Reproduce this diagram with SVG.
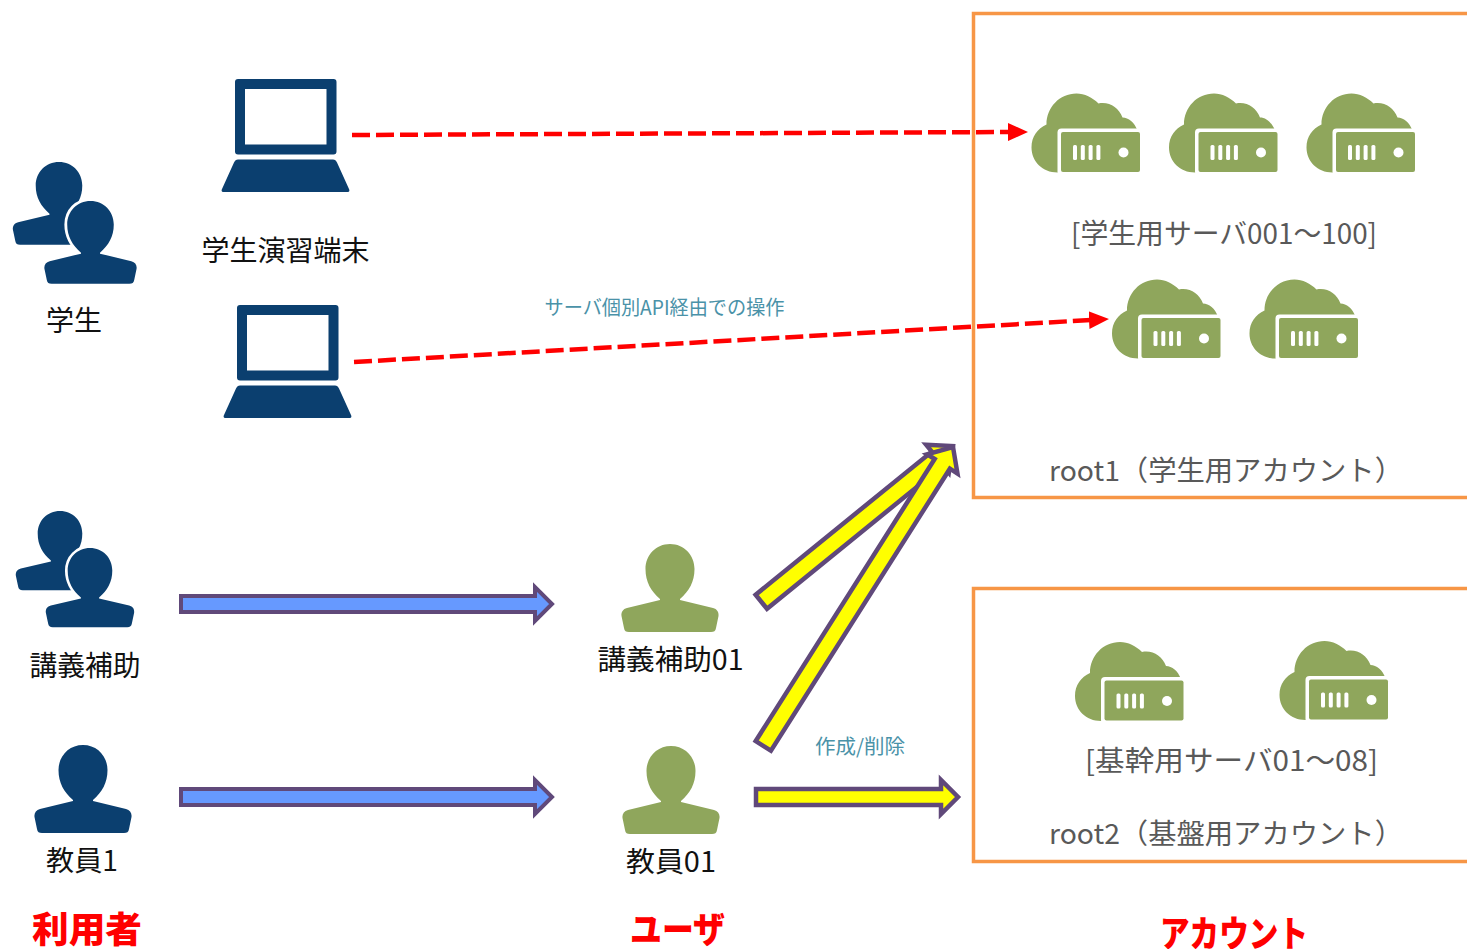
<svg xmlns="http://www.w3.org/2000/svg" xmlns:xlink="http://www.w3.org/1999/xlink" width="1467" height="949" viewBox="0 0 1467 949">
<style>
text{font-family:"Noto Sans CJK JP","Noto Sans",sans-serif;text-anchor:middle}
.k{font-size:28px;fill:#111}
.g{font-size:28px;fill:#595959}
.t{font-size:20px;fill:#4a92a8}
.r{font-size:36px;font-weight:900;fill:#f00}
.box{fill:none;stroke:#f79646;stroke-width:3.5}
.blue{fill:#0b3f6f}
.green{fill:#8fa65c}
.halo{stroke:#fff;stroke-width:6;paint-order:stroke}
.dash{fill:none;stroke:#f00;stroke-width:4.5;stroke-dasharray:18 6}
.ba{fill:#6699ff;stroke:#60497a;stroke-width:4}
.ya{fill:#ff0;stroke:#60497a;stroke-width:4.5}
</style>
<defs>
<path id="person" d="M0,0C14,0 24.500,11 24.500,25C24.500,38 19,47 10,55V56L43,64C47,65 49,68 48.500,72L46,84C45.500,87 44,88 41,88H-41C-44,88 -45.500,87 -46,84L-48.500,72C-49,68 -47,65 -43,64L-10,56V55C-19,47 -24.500,38 -24.500,25C-24.500,11 -14,0 0,0Z"/>
<g id="laptop">
<path fill-rule="evenodd" d="M3,0H98.500A3,3 0 0 1 101.500,3V72.500A3,3 0 0 1 98.500,75.500H3A3,3 0 0 1 0,72.500V3A3,3 0 0 1 3,0ZM10,10V65.500H91.500V10Z"/>
<path d="M3,80.500H98C100,80.500 101,81.500 102,83.500L114,110C115,112 114,113 112,113H-11C-13,113 -14,112 -13,110L-1,83.500C0,81.500 1,80.500 3,80.500Z"/>
</g>
<g id="cloudsrv">
<path class="green" d="M26,79C11,79 0,68 0,54C0,43 6,35 15,31C15,14 28,0 45,0C53,0 61,4 67,10C78,8 87,14 91,24C97,24 103,29 106,37V79Z"/>
<rect x="26" y="35" width="86" height="47" rx="4" fill="#fff"/>
<rect x="29.500" y="38.500" width="79" height="40" rx="2" class="green"/>
<g fill="#fff">
<rect x="41.500" y="51.500" width="4" height="15" rx="1.500"/>
<rect x="49.300" y="51.500" width="4" height="15" rx="1.500"/>
<rect x="57.100" y="51.500" width="4" height="15" rx="1.500"/>
<rect x="64.900" y="51.500" width="4" height="15" rx="1.500"/>
<circle cx="92" cy="59" r="5"/>
</g>
</g>
<marker id="redhead" markerUnits="userSpaceOnUse" markerWidth="22" markerHeight="22" refX="2" refY="10" orient="auto" viewBox="0 0 22 20"><path d="M0,1L20,10L0,19Z" fill="#f00"/></marker>
</defs>

<g id="account-root1"><rect class="box" x="973.500" y="13.500" width="520" height="484"/><text class="g" x="1049" y="481" style="text-anchor:start" textLength="354" lengthAdjust="spacingAndGlyphs">root1（学生用アカウント）</text></g>
<g id="account-root2"><rect class="box" x="973.500" y="588.500" width="520" height="273"/><text class="g" x="1049" y="844" style="text-anchor:start" textLength="354" lengthAdjust="spacingAndGlyphs">root2（基盤用アカウント）</text></g>

<g id="students"><use href="#person" class="blue" transform="translate(59,162) scale(.95,.94)"/><use href="#person" class="blue halo" transform="translate(90.500,201) scale(.95,.94)"/><text class="k" x="74" y="331" textLength="56" lengthAdjust="spacingAndGlyphs">学生</text></g>
<g id="student-terminal-1"><use href="#laptop" class="blue" transform="translate(235,79)"/><text class="k" x="285.500" y="261" textLength="168" lengthAdjust="spacingAndGlyphs">学生演習端末</text></g>
<g id="student-terminal-2"><use href="#laptop" class="blue" transform="translate(237,305)"/></g>
<g id="assistants"><use href="#person" class="blue" transform="translate(60,511) scale(.91,.9)"/><use href="#person" class="blue halo" transform="translate(90,548) scale(.91,.9)"/><text class="k" x="85" y="676" textLength="111" lengthAdjust="spacingAndGlyphs">講義補助</text></g>
<g id="teacher"><use href="#person" class="blue" transform="translate(83,745)"/><text class="k" x="82" y="871" textLength="72" lengthAdjust="spacingAndGlyphs">教員1</text></g>
<g id="user-assistant"><use href="#person" class="green" transform="translate(670,544)"/><text class="k" x="670.500" y="670" textLength="146" lengthAdjust="spacingAndGlyphs">講義補助01</text></g>
<g id="user-teacher"><use href="#person" class="green" transform="translate(671,746)"/><text class="k" x="671" y="872" textLength="90" lengthAdjust="spacingAndGlyphs">教員01</text></g>

<g id="servers-student">
<use href="#cloudsrv" x="1031.500" y="93.500"/><use href="#cloudsrv" x="1169" y="93.500"/><use href="#cloudsrv" x="1306.500" y="93.500"/>
<use href="#cloudsrv" x="1112" y="279.500"/><use href="#cloudsrv" x="1249.500" y="279.500"/>
<text class="g" x="1224" y="244" textLength="306" lengthAdjust="spacingAndGlyphs">[学生用サーバ001～100]</text>
</g>
<g id="servers-core">
<use href="#cloudsrv" x="1075" y="642"/><use href="#cloudsrv" x="1279.500" y="641"/>
<text class="g" x="1231.500" y="771" textLength="293" lengthAdjust="spacingAndGlyphs">[基幹用サーバ01～08]</text>
</g>

<g id="connectors">
<path class="dash" d="M352,135L1010,132" marker-end="url(#redhead)"/>
<path class="dash" d="M354,362L1091,320" marker-end="url(#redhead)"/>
<polygon class="ba" points="181,596 535,596 535,587 552,604 535,621 535,612 181,612"/>
<polygon class="ba" points="181,789 535,789 535,780 552,797 535,814 535,805 181,805"/>
<polygon class="ya" transform="translate(953,446) rotate(-39.100)" points="-247,-9 -20,-9 -20,-18 0,0 -20,18 -20,9 -247,9"/>
<polygon class="ya" transform="translate(953,447) rotate(-57.600)" points="-354,-9 -20,-9 -20,-18 0,0 -20,18 -20,9 -354,9"/>
<polygon class="ya" points="756,789 941,789 941,780 958,797 941,814 941,805 756,805"/>
<text class="t" x="664.500" y="315" textLength="240" lengthAdjust="spacingAndGlyphs">サーバ個別API経由での操作</text>
<text class="t" x="860" y="754" textLength="90" lengthAdjust="spacingAndGlyphs">作成/削除</text>
</g>

<g id="legend">
<text class="r" x="87" y="943" textLength="110" lengthAdjust="spacingAndGlyphs">利用者</text>
<text class="r" x="677.500" y="943" textLength="95" lengthAdjust="spacingAndGlyphs">ユーザ</text>
<text class="r" x="1234" y="947" textLength="148" lengthAdjust="spacingAndGlyphs">アカウント</text>
</g>
</svg>
